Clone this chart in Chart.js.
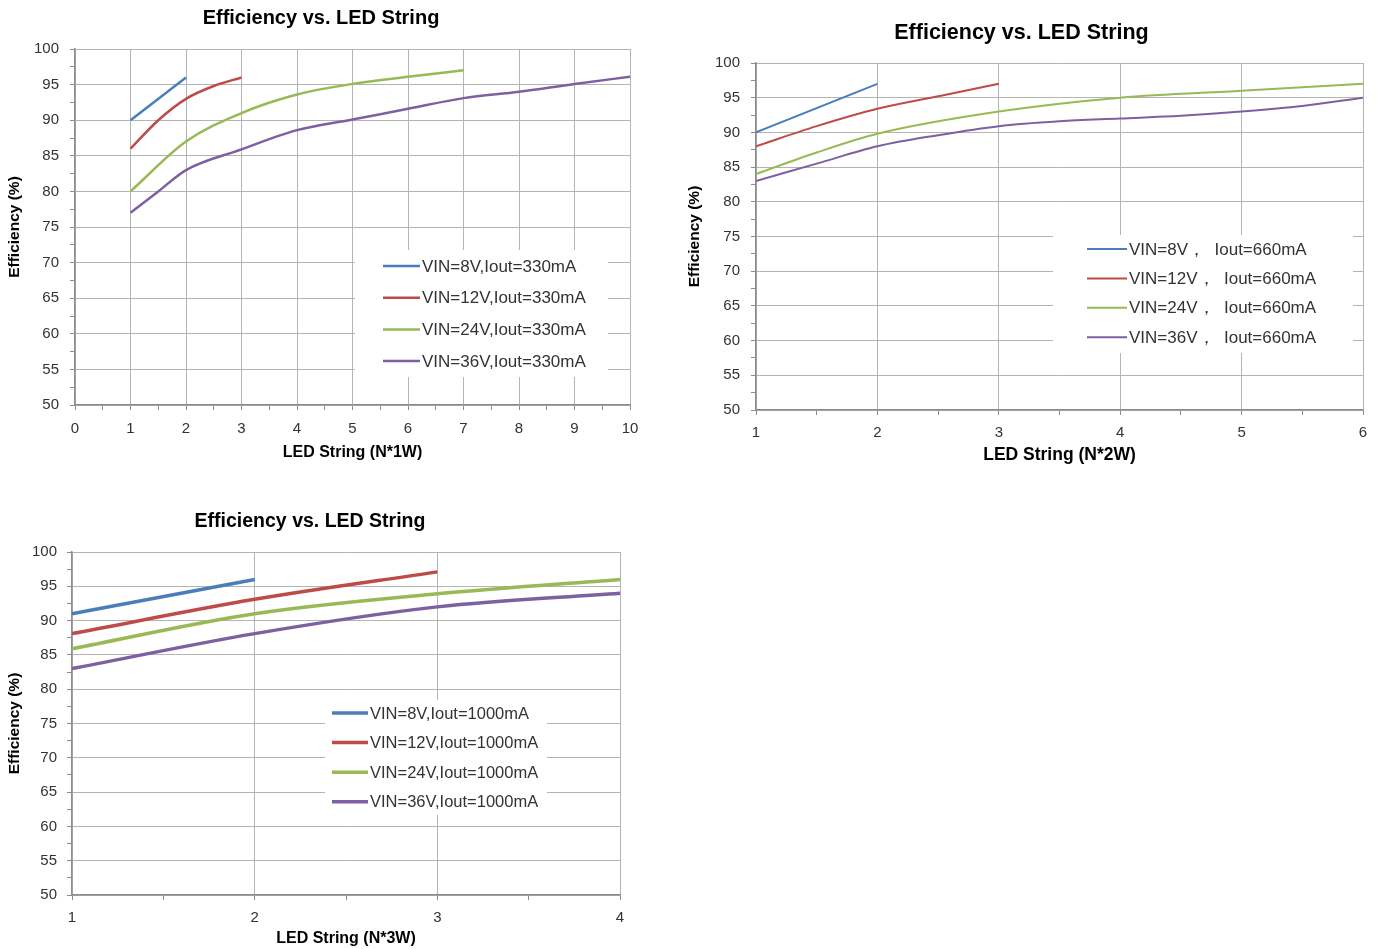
<!DOCTYPE html>
<html>
<head>
<meta charset="utf-8">
<script src="https://cdn.jsdelivr.net/npm/chart.js@4.4.1/dist/chart.umd.min.js"></script>
<style>
  html, body { margin: 0; padding: 0; background: #fff; }
  body { width: 1378px; height: 949px; position: relative; overflow: hidden; }
  .box { position: absolute; }
  canvas { display: block; }
</style>
</head>
<body>
<div class="box" style="left:0px;top:0px;"><canvas id="c1" width="680" height="470"></canvas></div>
<div class="box" style="left:680px;top:0px;"><canvas id="c2" width="698" height="470"></canvas></div>
<div class="box" style="left:0px;top:490px;"><canvas id="c3" width="640" height="459"></canvas></div>
<script>
// ---------- Data ----------
const seriesColors = ['#4a7ebb', '#be4b48', '#98b954', '#7d60a0'];
const chartTitle = 'Efficiency vs. LED String';
const yAxisTitle = 'Efficiency (%)';

// Chart 1 : N*1W, Iout = 330 mA
const c1Labels = ['VIN=8V,Iout=330mA', 'VIN=12V,Iout=330mA', 'VIN=24V,Iout=330mA', 'VIN=36V,Iout=330mA'];
const c1X8  = [1, 2];
const c1Y8  = [90, 96];
const c1X12 = [1, 1.5, 2, 2.5, 3];
const c1Y12 = [86, 90, 93, 94.8, 96];
const c1X24 = [1, 2, 3, 4, 5, 6, 7];
const c1Y24 = [80, 87, 91, 93.6, 95.1, 96.1, 97];
const c1X36 = [1, 1.5, 2, 3, 4, 5, 6, 7, 8, 9, 10];
const c1Y36 = [77, 80, 83, 85.9, 88.6, 90.1, 91.6, 93.1, 94, 95.1, 96.1];
const c1XTitle = 'LED String (N*1W)';

// Chart 2 : N*2W, Iout = 660 mA
const c2Labels = ['VIN=8V，  Iout=660mA', 'VIN=12V，  Iout=660mA', 'VIN=24V，  Iout=660mA', 'VIN=36V，  Iout=660mA'];
const c2X8  = [1, 2];
const c2Y8  = [90, 97];
const c2X12 = [1, 1.5, 2, 2.5, 3];
const c2Y12 = [88, 90.9, 93.4, 95.2, 97];
const c2X24 = [1, 1.5, 2, 3, 4, 5, 6];
const c2Y24 = [84, 87.1, 89.8, 93, 95, 96, 97];
const c2X36 = [1, 1.5, 2, 2.5, 3, 3.5, 4, 4.5, 5, 5.5, 6];
const c2Y36 = [83, 85.5, 88, 89.6, 90.9, 91.6, 92, 92.4, 93, 93.8, 95];
const c2XTitle = 'LED String (N*2W)';

// Chart 3 : N*3W, Iout = 1000 mA
const c3Labels = ['VIN=8V,Iout=1000mA', 'VIN=12V,Iout=1000mA', 'VIN=24V,Iout=1000mA', 'VIN=36V,Iout=1000mA'];
const c3X8  = [1, 2];
const c3Y8  = [91, 96];
const c3X12 = [1, 2, 3];
const c3Y12 = [88.1, 93.1, 97.1];
const c3X24 = [1, 2, 3, 4];
const c3Y24 = [85.9, 91, 93.9, 96];
const c3X36 = [1, 2, 3, 4];
const c3Y36 = [83, 88.1, 92, 94];
const c3XTitle = 'LED String (N*3W)';

// ---------- Helpers ----------
const pts = (xs, ys) => xs.map((x, i) => ({ x: x, y: ys[i] }));
const FONT = "'Liberation Sans', Arial, sans-serif";
const GRID = '#b4b4b4';
const AXIS = '#8c8c8c';

const boxLegend = {
  id: 'boxLegend',
  afterDatasetsDraw(chart, args, o) {
    const ctx = chart.ctx;
    ctx.save();
    ctx.fillStyle = '#ffffff';
    ctx.fillRect(o.x, o.y, o.w, o.h);
    ctx.font = o.font;
    ctx.textBaseline = 'middle';
    ctx.textAlign = 'left';
    chart.data.datasets.forEach((ds, i) => {
      const cy = o.y + o.first + i * o.gap;
      ctx.strokeStyle = ds.borderColor;
      ctx.lineWidth = o.lineWidth;
      ctx.beginPath();
      ctx.moveTo(o.x + o.pad, cy);
      ctx.lineTo(o.x + o.pad + o.len, cy);
      ctx.stroke();
      ctx.fillStyle = o.color;
      ctx.fillText(ds.label, o.x + o.pad + o.len + 2, cy + 1);
    });
    ctx.restore();
  }
};

function makeChart(id, labels, series, xMin, xMax, xTitle, cfg) {
  const datasets = series.map((s, i) => ({
    label: labels[i],
    data: s,
    borderColor: seriesColors[i],
    backgroundColor: seriesColors[i],
    borderWidth: cfg.lineWidth,
    pointRadius: 0,
    fill: false,
    cubicInterpolationMode: 'monotone'
  }));
  return new Chart(document.getElementById(id), {
    type: 'line',
    data: { datasets: datasets },
    plugins: [boxLegend],
    options: {
      responsive: false,
      animation: false,
      events: [],
      layout: { padding: { left: cfg.padLeft, right: cfg.padRight, top: 0, bottom: 0 } },
      plugins: {
        legend: { display: false },
        tooltip: { enabled: false },
        title: {
          display: true,
          text: chartTitle,
          color: '#000',
          font: { family: FONT, size: cfg.titleSize, weight: 'bold', lineHeight: 1.2 },
          padding: { top: cfg.titleTop, bottom: cfg.titleBottom }
        },
        boxLegend: cfg.legend
      },
      scales: {
        x: {
          type: 'linear',
          min: xMin, max: xMax,
          afterFit: (s) => { s.height = cfg.xHeight; },
          ticks: {
            stepSize: 0.5,
            autoSkip: false,
            maxRotation: 0,
            padding: cfg.xTickPad,
            color: '#333',
            font: { family: FONT, size: 15 },
            callback: (v) => (Math.abs(v - Math.round(v)) < 1e-9 ? String(Math.round(v)) : '')
          },
          grid: {
            color: (c) => (c.tick && Math.abs(c.tick.value - Math.round(c.tick.value)) < 1e-9 ? GRID : 'rgba(0,0,0,0)'),
            tickColor: AXIS,
            tickLength: 5,
            lineWidth: 1
          },
          border: { color: AXIS, width: 1.5 },
          title: {
            display: true,
            text: xTitle,
            color: '#000',
            font: { family: FONT, size: cfg.xTitleSize, weight: 'bold', lineHeight: 1.2 },
            padding: { top: 4, bottom: cfg.xTitleBottom }
          }
        },
        y: {
          min: 50, max: 100,
          afterFit: (s) => { s.width = cfg.yWidth; },
          ticks: {
            stepSize: 2.5,
            autoSkip: false,
            padding: cfg.yTickPad,
            color: '#333',
            font: { family: FONT, size: 15 },
            callback: (v) => (v % 5 === 0 ? String(v) : '')
          },
          grid: {
            color: (c) => (c.tick && c.tick.value % 5 === 0 ? GRID : 'rgba(0,0,0,0)'),
            tickColor: AXIS,
            tickLength: 5,
            lineWidth: 1
          },
          border: { color: AXIS, width: 1.5 },
          title: {
            display: true,
            text: yAxisTitle,
            color: '#000',
            font: { family: FONT, size: 15.5, weight: 'bold', lineHeight: 1.2 },
            padding: { top: cfg.yTitleTop, bottom: 0 }
          }
        }
      }
    }
  });
}

makeChart('c1', c1Labels,
  [pts(c1X8, c1Y8), pts(c1X12, c1Y12), pts(c1X24, c1Y24), pts(c1X36, c1Y36)],
  0, 10, c1XTitle,
  { lineWidth: 2.5, padLeft: 12, padRight: 50, titleSize: 20, titleTop: 6, titleBottom: 19,
    xHeight: 65, xTickPad: 10, xTitleSize: 16, xTitleBottom: 7.4,
    yWidth: 63, yTickPad: 11, yTitleTop: -6.3,
    legend: { x: 355, y: 250, w: 253, h: 127, first: 16, gap: 31.7, pad: 28, len: 37,
              lineWidth: 2.5, font: "17px " + FONT, color: '#333' } });

makeChart('c2', c2Labels,
  [pts(c2X8, c2Y8), pts(c2X12, c2Y12), pts(c2X24, c2Y24), pts(c2X36, c2Y36)],
  1, 6, c2XTitle,
  { lineWidth: 2, padLeft: 0, padRight: 15, titleSize: 21.5, titleTop: 20.1, titleBottom: 17.1,
    xHeight: 60, xTickPad: 9, xTitleSize: 17.5, xTitleBottom: 4.5,
    yWidth: 76, yTickPad: 11, yTitleTop: 5.7,
    legend: { x: 373, y: 235, w: 300, h: 118, first: 14, gap: 29.4, pad: 34, len: 40,
              lineWidth: 2, font: "17px " + FONT, color: '#333' } });

makeChart('c3', c3Labels,
  [pts(c3X8, c3Y8), pts(c3X12, c3Y12), pts(c3X24, c3Y24), pts(c3X36, c3Y36)],
  1, 4, c3XTitle,
  { lineWidth: 3.5, padLeft: 0, padRight: 20, titleSize: 19.5, titleTop: 20.3, titleBottom: 18.3,
    xHeight: 54, xTickPad: 9, xTitleSize: 16, xTitleBottom: 0.4,
    yWidth: 72, yTickPad: 10, yTitleTop: 5.7,
    legend: { x: 325, y: 210, w: 222, h: 115, first: 13, gap: 29.6, pad: 7, len: 36,
              lineWidth: 3.5, font: "16.5px " + FONT, color: '#333' } });
</script>
</body>
</html>
